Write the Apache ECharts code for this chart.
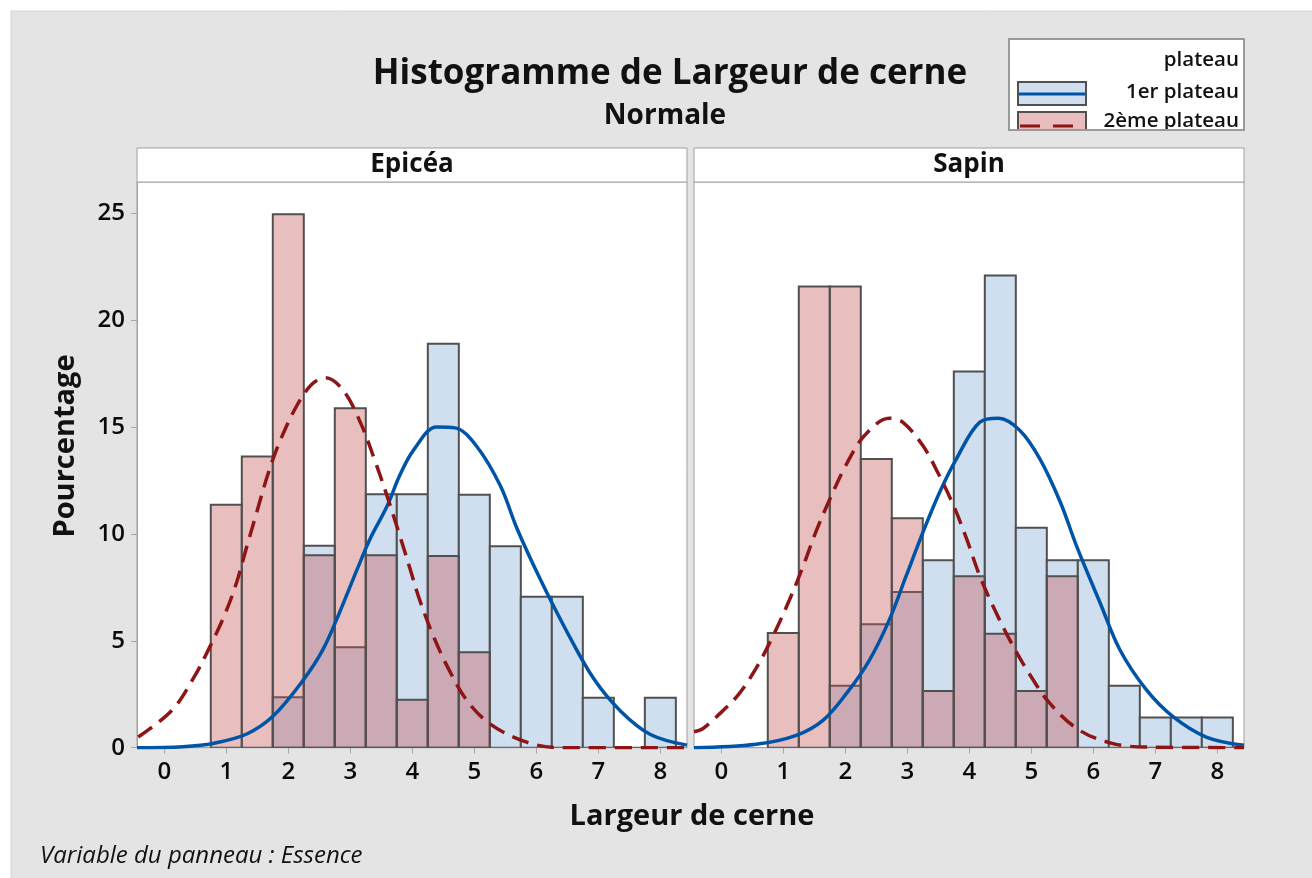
<!DOCTYPE html>
<html>
<head>
<meta charset="utf-8">
<script src="https://cdn.jsdelivr.net/npm/echarts@6/dist/echarts.min.js"></script>
<style>
  html, body { margin: 0; padding: 0; background: #fff; }
  #hist { width: 1312px; height: 878px; }
</style>
</head>
<body>
<div id="hist"></div>
<script>
// bins of width 0.5 (percent of each group)
var binMids = [1, 1.5, 2, 2.5, 3, 3.5, 4, 4.5, 5, 5.5, 6, 6.5, 7, 7.5, 8];
var binWidth = 0.5;

var epiceaPlateau1 = [null, null, 2.36, 9.45, 4.70, 11.86, 11.86, 18.9, 11.83, 9.42, 7.06, 7.06, 2.34, 0, 2.34];
var epiceaPlateau2 = [11.36, 13.62, 24.95, 9.0, 15.88, 9.0, 2.24, 8.97, 4.47, null, null, null, null, null, null];
var sapinPlateau1 = [null, null, 2.90, 5.78, 7.28, 8.77, 17.6, 22.09, 10.29, 8.77, 8.77, 2.90, 1.41, 1.41, 1.41];
var sapinPlateau2 = [5.36, 21.57, 21.57, 13.5, 10.73, 2.65, 8.02, 5.33, 2.65, 8.02, null, null, null, null, null];

// fitted normal curves
var epiceaCurve1X = [-0.44, 0.3, 0.79, 1.33, 1.76, 2.24, 2.56, 2.83, 3.10, 3.32, 3.59, 3.80, 4.02, 4.39, 4.69, 5.04, 5.42, 5.69, 6.06, 6.50, 6.93, 7.36, 7.84, 8.43];
var epiceaCurve1Y = [0, 0.05, 0.2, 0.64, 1.49, 3.16, 4.6, 6.35, 8.27, 9.77, 11.28, 12.75, 13.92, 15.0, 14.96, 14.09, 12.25, 10.24, 7.9, 5.39, 3.21, 1.71, 0.62, 0.12];
var epiceaCurve2X = [-0.42, 0.12, 0.47, 0.74, 0.98, 1.17, 1.33, 1.49, 1.68, 1.87, 2.13, 2.38, 2.6, 2.89, 3.18, 3.40, 3.59, 3.80, 3.96, 4.12, 4.34, 4.58, 4.88, 5.25, 5.82, 6.38, 8.43];
var epiceaCurve2Y = [0.5, 1.74, 3.25, 4.75, 6.26, 7.76, 9.4, 11.0, 12.87, 14.37, 15.96, 17.0, 17.3, 16.7, 15.1, 13.4, 11.8, 9.9, 8.4, 6.9, 5.22, 3.71, 2.21, 1.12, 0.28, 0, 0];
var sapinCurve1X = [-0.44, 0.56, 1.21, 1.64, 2.02, 2.39, 2.71, 2.98, 3.25, 3.52, 3.79, 4.17, 4.47, 4.82, 5.14, 5.47, 5.73, 6.11, 6.43, 6.86, 7.29, 7.82, 8.43];
var sapinCurve1Y = [0, 0.16, 0.58, 1.28, 2.54, 4.1, 5.98, 8.02, 10.06, 11.94, 13.5, 15.23, 15.41, 14.83, 13.5, 11.47, 9.43, 6.77, 4.57, 2.69, 1.44, 0.5, 0.11];
var sapinCurve2X = [-0.44, -0.30, -0.08, 0.27, 0.56, 0.83, 1.10, 1.32, 1.53, 1.75, 2.02, 2.31, 2.71, 2.93, 3.25, 3.49, 3.76, 3.96, 4.17, 4.41, 4.68, 4.98, 5.30, 5.78, 6.32, 6.85, 8.43];
var sapinCurve2Y = [0.75, 0.89, 1.44, 2.46, 3.71, 5.2, 6.92, 8.49, 10.13, 11.62, 13.27, 14.6, 15.41, 15.22, 14.13, 12.88, 11.23, 9.74, 8.02, 6.45, 4.89, 3.4, 2.07, 0.81, 0.19, 0.03, 0];

var xTicks = [0, 1, 2, 3, 4, 5, 6, 7, 8];
var yTicks = [0, 5, 10, 15, 20, 25];
var panels = ['Epicéa', 'Sapin'];

var FONT = '"Open Sans", "Noto Sans", sans-serif';
var BLUE_FILL = '#cfdff0';
var RED_FILL = 'rgba(198, 83, 83, 0.38)';
var BLUE_LINE = '#0054a6';
var RED_LINE = '#8e1515';
var GREY_BG = '#e4e4e4';

function pairs(xs, ys) {
  var out = [];
  for (var i = 0; i < xs.length; i++) {
    if (ys[i] !== null) out.push([xs[i], ys[i]]);
  }
  return out;
}

function binSeries(idx, values, fill, z) {
  return {
    type: 'custom',
    xAxisIndex: idx,
    yAxisIndex: idx,
    z: z,
    clip: true,
    encode: { x: 0, y: 1 },
    data: pairs(binMids, values),
    renderItem: function (params, api) {
      var tl = api.coord([api.value(0) - binWidth / 2, api.value(1)]);
      var br = api.coord([api.value(0) + binWidth / 2, 0]);
      return {
        type: 'rect',
        shape: { x: tl[0], y: tl[1], width: br[0] - tl[0], height: br[1] - tl[1] },
        style: { fill: fill, stroke: '#505050', lineWidth: 2 }
      };
    }
  };
}

function curveSeries(idx, xs, ys, color, dashed, z) {
  return {
    type: 'line',
    xAxisIndex: idx,
    yAxisIndex: idx,
    z: z,
    showSymbol: false,
    smooth: 0.35,
    clip: true,
    data: pairs(xs, ys),
    lineStyle: { color: color, width: 3.5, type: dashed ? [17, 9] : 'solid' }
  };
}

function xAxisFor(idx) {
  return {
    type: 'value',
    gridIndex: idx,
    min: -0.44,
    max: 8.43,
    axisLine: { show: true, onZero: false, lineStyle: { color: '#a0a0a0', width: 1 } },
    axisTick: { show: true, customValues: xTicks, length: 6, lineStyle: { color: '#a8a8a8' } },
    axisLabel: { customValues: xTicks, margin: 12, color: '#0a0a0a', fontSize: 24, fontWeight: 600, fontFamily: FONT },
    splitLine: { show: false }
  };
}

function yAxisFor(idx) {
  return {
    type: 'value',
    gridIndex: idx,
    min: 0,
    max: 26.46,
    axisLine: { show: idx === 0, onZero: false, lineStyle: { color: '#a0a0a0', width: 1 } },
    axisTick: { show: idx === 0, customValues: yTicks, length: 6, lineStyle: { color: '#a8a8a8' } },
    axisLabel: { show: idx === 0, customValues: yTicks, margin: 12, color: '#0a0a0a', fontSize: 24, fontWeight: 600, fontFamily: FONT },
    splitLine: { show: false }
  };
}

function label(text, x, y, font, extra) {
  var el = {
    type: 'text',
    x: x,
    y: y,
    z: 10,
    style: {
      text: text,
      font: font,
      fill: '#111',
      textAlign: 'center',
      textVerticalAlign: 'middle',
      align: 'center',
      verticalAlign: 'middle'
    }
  };
  if (extra) {
    for (var k in extra) el[k] = extra[k];
  }
  return el;
}

function rightText(text, x, y, font) {
  return {
    type: 'text', x: x, y: y, z: 10,
    style: { text: text, font: font, fill: '#111', textAlign: 'right', align: 'right', textVerticalAlign: 'middle', verticalAlign: 'middle' }
  };
}

var chartDom = document.getElementById('hist');
var myChart = echarts.init(chartDom);

var graphics = [
  { type: 'rect', z: -10, shape: { x: 11, y: 11, width: 1320, height: 880 }, style: { fill: GREY_BG, stroke: '#d4d4d4', lineWidth: 1 } },
  // strips
  { type: 'rect', z: 1, shape: { x: 137, y: 148, width: 550, height: 34 }, style: { fill: '#fff', stroke: '#a0a0a0', lineWidth: 1 } },
  { type: 'rect', z: 1, shape: { x: 694, y: 148, width: 550, height: 34 }, style: { fill: '#fff', stroke: '#a0a0a0', lineWidth: 1 } },
  label(panels[0], 412, 165, 'bold 26px ' + FONT),
  label(panels[1], 969, 165, 'bold 26px ' + FONT),
  // titles
  label('Histogramme de Largeur de cerne', 670, 74, 'bold 35px ' + FONT),
  label('Normale', 665, 116, 'bold 28px ' + FONT),
  label('Pourcentage', 66, 446, 'bold 29px ' + FONT, { rotation: Math.PI / 2 }),
  label('Largeur de cerne', 692, 817, 'bold 29px ' + FONT),
  {
    type: 'text', x: 40, y: 856, z: 10,
    style: { text: 'Variable du panneau : Essence', font: 'italic 24px ' + FONT, fill: '#111', textAlign: 'left', align: 'left', textVerticalAlign: 'middle', verticalAlign: 'middle' }
  },
  // legend box
  { type: 'rect', z: 5, shape: { x: 1009, y: 39, width: 235, height: 100 }, style: { fill: '#fff', stroke: '#9a9a9a', lineWidth: 2 } },
  rightText('plateau', 1239, 60, '600 20.5px ' + FONT),
  rightText('1er plateau', 1239, 92, '600 20.5px ' + FONT),
  rightText('2ème plateau', 1239, 121, '600 20.5px ' + FONT),
  { type: 'rect', z: 10, shape: { x: 1018, y: 82, width: 68, height: 23 }, style: { fill: BLUE_FILL, stroke: '#505050', lineWidth: 2 } },
  { type: 'line', z: 11, shape: { x1: 1019, y1: 94, x2: 1085, y2: 94 }, style: { stroke: BLUE_LINE, lineWidth: 3 } },
  { type: 'rect', z: 10, shape: { x: 1018, y: 112, width: 68, height: 23 }, style: { fill: '#e9bdbd', stroke: '#505050', lineWidth: 2 } },
  { type: 'line', z: 11, shape: { x1: 1020, y1: 126, x2: 1084, y2: 126 }, style: { stroke: RED_LINE, lineWidth: 3, lineDash: [20, 13] } },
  // legend is cut at its bottom edge
  { type: 'rect', z: 12, shape: { x: 1000, y: 131, width: 260, height: 16 }, style: { fill: GREY_BG } },
  { type: 'line', z: 12, shape: { x1: 1008, y1: 130, x2: 1245, y2: 130 }, style: { stroke: '#9a9a9a', lineWidth: 2 } }
];

var option = {
  backgroundColor: '#fff',
  animation: false,
  grid: [
    { left: 137, top: 182, width: 550, bottom: 130.3, show: true, backgroundColor: '#fff', borderColor: '#a0a0a0', borderWidth: 1 },
    { left: 694, top: 182, width: 550, bottom: 130.3, show: true, backgroundColor: '#fff', borderColor: '#a0a0a0', borderWidth: 1 }
  ],
  xAxis: [xAxisFor(0), xAxisFor(1)],
  yAxis: [yAxisFor(0), yAxisFor(1)],
  graphic: graphics,
  series: [
    binSeries(0, epiceaPlateau1, BLUE_FILL, 2),
    binSeries(0, epiceaPlateau2, RED_FILL, 3),
    curveSeries(0, epiceaCurve1X, epiceaCurve1Y, BLUE_LINE, false, 4),
    curveSeries(0, epiceaCurve2X, epiceaCurve2Y, RED_LINE, true, 5),
    binSeries(1, sapinPlateau1, BLUE_FILL, 2),
    binSeries(1, sapinPlateau2, RED_FILL, 3),
    curveSeries(1, sapinCurve1X, sapinCurve1Y, BLUE_LINE, false, 4),
    curveSeries(1, sapinCurve2X, sapinCurve2Y, RED_LINE, true, 5)
  ]
};

option && myChart.setOption(option);
</script>
</body>
</html>
